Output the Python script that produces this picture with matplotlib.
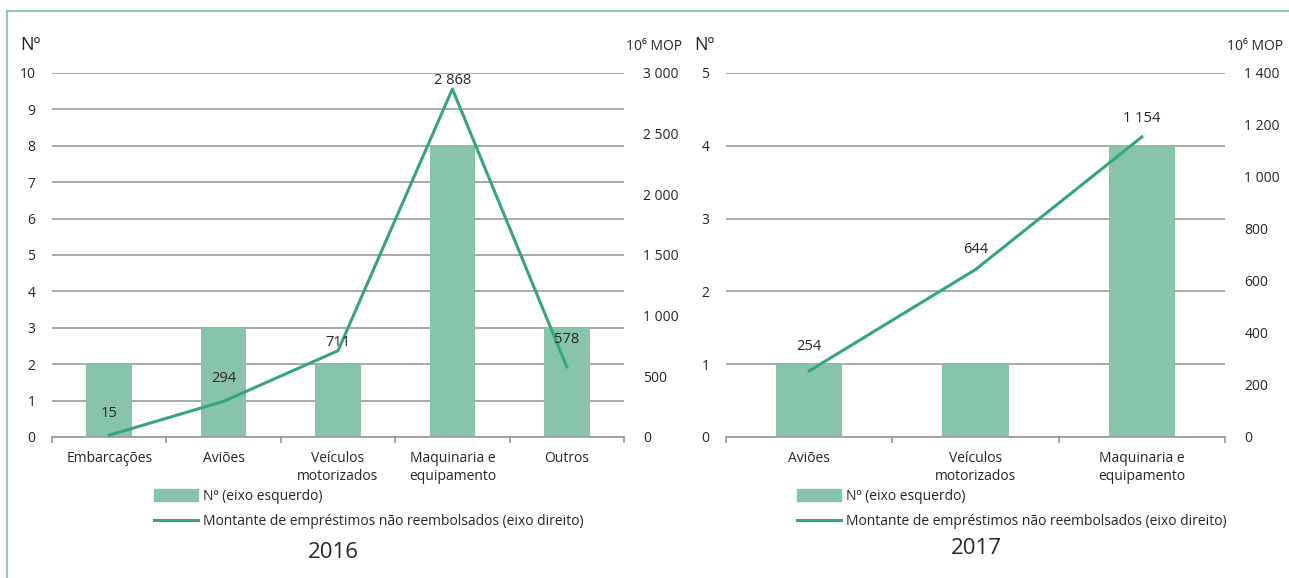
import matplotlib
matplotlib.use("Agg")
import matplotlib.pyplot as plt
from matplotlib.lines import Line2D
from matplotlib.patches import Patch
import numpy as np

plt.rcParams['font.family'] = ['Open Sans', 'DejaVu Sans']

# dados 2016
cat_2016 = ["Embarcações", "Aviões", "Veículos\nmotorizados", "Maquinaria e\nequipamento", "Outros"]
num_2016 = [2, 3, 2, 8, 3]
mont_2016 = [15, 294, 711, 2868, 578]
lab_off_2016 = [22, 23, 8, 9, 27]

# dados 2017
cat_2017 = ["Aviões", "Veículos\nmotorizados", "Maquinaria e\nequipamento"]
num_2017 = [1, 1, 4]
mont_2017 = [254, 644, 1154]
lab_off_2017 = [24, 20, 18]

BAR = "#88c4aa"
LINE = "#35a67c"
GRID = "#9a9a9a"
TXT = "#262626"
W, H = 1289, 578


def fmt(v):
    return f"{v:,.0f}".replace(",", " ")


def painel(rect, cats, nums, monts, offs, ymax, rmax, rstep, ano, leg_x, ano_x, ano_y):
    ax = fig.add_axes([rect[0] / W, 1 - rect[3] / H, (rect[2] - rect[0]) / W, (rect[3] - rect[1]) / H])
    x = np.arange(len(cats))
    ax.bar(x, nums, width=0.4, color=BAR, zorder=2)
    ax.set_xlim(-0.5, len(cats) - 0.5)
    ax.set_ylim(0, ymax)
    ax.set_yticks(range(ymax + 1))
    ax.yaxis.grid(True, color=GRID, lw=1.2, zorder=0)
    ax.set_axisbelow(True)
    for s in ["top", "right", "left"]:
        ax.spines[s].set_visible(False)
    ax.spines["bottom"].set_color(GRID)
    ax.spines["bottom"].set_linewidth(1.2)
    ax.set_xticks(x)
    ax.set_xticklabels(cats, fontsize=10, color=TXT, linespacing=1.3)
    ax.tick_params(axis="x", length=0, pad=10)
    ax.set_xticks(np.arange(len(cats) + 1) - 0.5, minor=True)
    ax.tick_params(axis="x", which="minor", length=4, color=GRID, width=1.2)
    ax.tick_params(axis="y", length=0, pad=12, labelsize=10, labelcolor=TXT)

    ax2 = ax.twinx()
    ax2.set_ylim(0, rmax)
    ax2.set_yticks(np.arange(0, rmax + 1, rstep))
    ax2.set_yticklabels([fmt(v) for v in np.arange(0, rmax + 1, rstep)])
    ax2.tick_params(axis="y", length=0, pad=14, labelsize=10, labelcolor=TXT)
    for s in ax2.spines.values():
        s.set_visible(False)
    ax2.plot(x, monts, color=LINE, lw=2.2, zorder=3)
    for xi, v, o in zip(x, monts, offs):
        ax2.annotate(fmt(v), (xi, v), xytext=(0, o), textcoords="offset pixels",
                     ha="center", va="center", fontsize=10.5, color=TXT)

    # titulos dos eixos
    fig.text((rect[0] - 22) / W, 1 - 45 / H, "Nº", ha="center", va="center", fontsize=13, color=TXT)
    fig.text((rect[2] + 30) / W, 1 - 46 / H, "10⁶ MOP", ha="center", va="center", fontsize=10,
             color=TXT)

    handles = [Patch(color=BAR), Line2D([], [], color=LINE, lw=2.2)]
    labels = ["Nº (eixo esquerdo)", "Montante de empréstimos não reembolsados (eixo direito)"]
    fig.legend(handles, labels, loc="upper left", bbox_to_anchor=(leg_x / W, 1 - 489 / H),
               frameon=False, fontsize=10, handlelength=3.2, handleheight=0.9,
               handletextpad=0.3, labelspacing=0.75, borderaxespad=0, borderpad=0,
               labelcolor=TXT)
    fig.text(ano_x / W, 1 - ano_y / H, ano, ha="center", va="center", fontsize=16, color=TXT)


fig = plt.figure(figsize=(W / 100, H / 100), dpi=100)

painel((52, 73, 624, 437), cat_2016, num_2016, mont_2016, lab_off_2016, 10, 3000, 500,
       "2016", 154, 333, 553)
painel((726, 73, 1225, 437), cat_2017, num_2017, mont_2017, lab_off_2017, 5, 1400, 200,
       "2017", 797, 976, 549)

# moldura
fig.add_artist(Line2D([7 / W, 7 / W], [0, 1 - 11 / H], color="#8ccbb2", lw=1.5))
fig.add_artist(Line2D([7 / W, 1], [1 - 11 / H, 1 - 11 / H], color="#8ccbb2", lw=1.5))

fig.savefig("out.png", dpi=100)
